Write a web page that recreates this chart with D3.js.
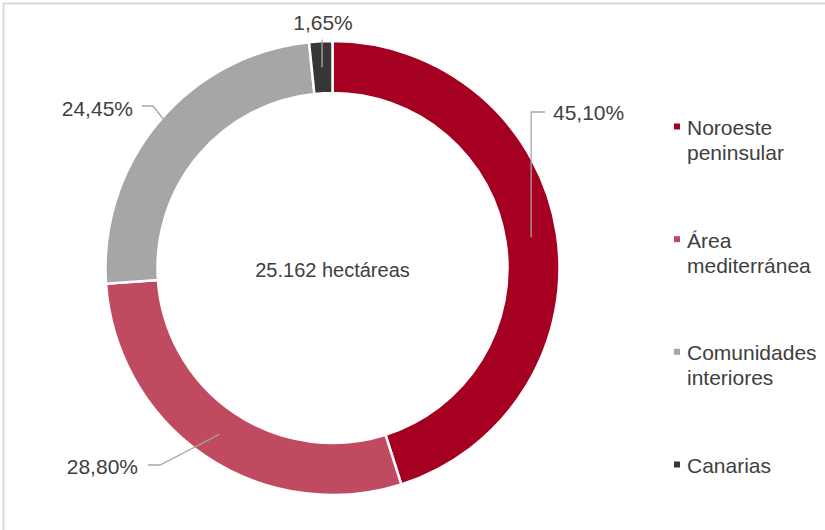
<!DOCTYPE html>
<html>
<head>
<meta charset="utf-8">
<script src="https://cdn.jsdelivr.net/npm/d3@7"></script>
<style>
  html, body { margin: 0; padding: 0; background: #fff; }
  svg { display: block; font-family: "Liberation Sans", Arial, sans-serif; }
</style>
</head>
<body>
<svg id="chart" width="825" height="530"></svg>
<script>
// ---- data ----
const categories = ["Noroeste peninsular", "Área mediterránea", "Comunidades interiores", "Canarias"];
const legendLines = [["Noroeste", "peninsular"], ["Área", "mediterránea"], ["Comunidades", "interiores"], ["Canarias"]];
const values = [45.10, 28.80, 24.45, 1.65];
const valueLabels = ["45,10%", "28,80%", "24,45%", "1,65%"];
const centerLabel = "25.162 hectáreas";
const colors = ["#A50021", "#C04A60", "#A6A6A6", "#363636"];

// ---- layout ----
const W = 825, H = 530;
const cx = 332.5, cy = 268, rOuter = 227, rInner = 175;
// label anchor, elbow point and text positions (layout only)
const labelLayout = [
  { elbow: [531, 112], end: [545, 112], text: [553, 112], anchor: "start", vertical: true },
  { elbow: [160, 465], end: [148, 465], text: [138, 466], anchor: "end" },
  { elbow: [153, 106], end: [142, 106], text: [133, 108], anchor: "end" },
  { elbow: [322, 40], end: [322, 40], text: [323, 22], anchor: "middle", vertical: true }
];

const svg = d3.select("#chart");

// frame
svg.append("rect")
  .attr("x", 3.5).attr("y", 3.5)
  .attr("width", 840).attr("height", 540)
  .attr("fill", "none").attr("stroke", "#D9D9D9").attr("stroke-width", 2);

const pie = d3.pie().sort(null).value(d => d)(values);
const arc = d3.arc().innerRadius(rInner).outerRadius(rOuter);
const midArc = d3.arc().innerRadius((rInner + rOuter) / 2).outerRadius((rInner + rOuter) / 2);

const g = svg.append("g").attr("transform", `translate(${cx},${cy})`);
g.selectAll("path.slice")
  .data(pie)
  .join("path")
  .attr("class", "slice")
  .attr("d", arc)
  .attr("fill", (d, i) => colors[i])
  .attr("stroke", "#fff")
  .attr("stroke-width", 2.5)
  .attr("stroke-linejoin", "miter");

// leader lines
pie.forEach((d, i) => {
  const c = midArc.centroid(d);
  const start = [cx + c[0], cy + c[1]];
  const L = labelLayout[i];
  let pts;
  if (L.vertical) {
    pts = [[start[0], start[1]], [start[0], L.elbow[1]], L.end];
  } else {
    pts = [start, L.elbow, L.end];
  }
  svg.append("path")
    .attr("d", d3.line()(pts))
    .attr("fill", "none")
    .attr("stroke", "#A6A6A6")
    .attr("stroke-width", 1.3);
  svg.append("text")
    .attr("x", L.text[0]).attr("y", L.text[1])
    .attr("text-anchor", L.anchor)
    .attr("dominant-baseline", "central")
    .attr("font-size", 21)
    .attr("fill", "#404040")
    .text(valueLabels[i]);
});

// center label
svg.append("text")
  .attr("x", cx).attr("y", 270)
  .attr("text-anchor", "middle")
  .attr("dominant-baseline", "central")
  .attr("font-size", 20)
  .attr("fill", "#404040")
  .text(centerLabel);

// legend
const legendY = d3.scalePoint().domain(categories).range([127, 465]);
const lg = svg.append("g");
categories.forEach((cat, i) => {
  const y = legendY(cat);
  lg.append("rect")
    .attr("x", 674).attr("y", y - 3.5)
    .attr("width", 6).attr("height", 6)
    .attr("fill", colors[i]);
  const t = lg.append("text")
    .attr("x", 687).attr("y", y)
    .attr("font-size", 21)
    .attr("fill", "#404040")
    .attr("dominant-baseline", "central");
  legendLines[i].forEach((line, j) => {
    t.append("tspan").attr("x", 687).attr("dy", j === 0 ? 0 : 25).text(line);
  });
});
</script>
</body>
</html>
